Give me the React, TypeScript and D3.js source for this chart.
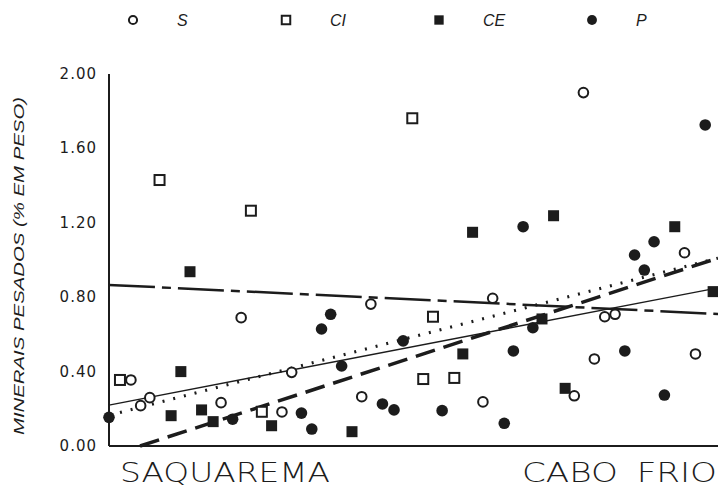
import React from 'react';
import * as d3 from 'd3';

// position along the coast (0 = Saquarema, 100 = Cabo Frio), heavy minerals (% weight)
const seriesS = [
  [3.6, 0.355], [5.2, 0.217], [6.7, 0.26], [18.4, 0.233], [21.7, 0.69], [30.0, 0.396],
  [28.4, 0.183], [41.5, 0.265], [43.0, 0.763], [63.0, 0.794], [61.4, 0.237], [79.7, 0.468],
  [81.4, 0.695], [83.1, 0.708], [76.4, 0.27], [96.3, 0.495], [94.5, 1.039], [77.9, 1.9],
];
const seriesCI = [
  [1.8, 0.355], [8.3, 1.43], [23.3, 1.265], [49.8, 1.762], [53.2, 0.695], [51.6, 0.36],
  [56.7, 0.366], [25.1, 0.184],
];
const seriesCE = [
  [13.3, 0.937], [11.8, 0.4], [10.2, 0.163], [15.2, 0.194], [17.1, 0.131], [26.7, 0.109],
  [39.9, 0.077], [58.1, 0.495], [71.1, 0.683], [74.9, 0.31], [99.2, 0.83], [59.7, 1.149],
  [73.0, 1.238], [92.9, 1.179],
];
const seriesP = [
  [0, 0.154], [20.3, 0.144], [31.6, 0.177], [33.3, 0.091], [34.9, 0.629], [36.4, 0.708],
  [38.2, 0.43], [44.9, 0.226], [46.8, 0.194], [48.3, 0.565], [54.7, 0.19], [64.9, 0.122],
  [66.4, 0.511], [69.6, 0.636], [84.7, 0.511], [91.2, 0.274], [86.3, 1.027], [87.9, 0.946],
  [89.5, 1.098], [68.0, 1.179], [97.9, 1.726],
];

// trend lines: [x start, y start, x end, y end]
const trendDashDot = [0, 0.866, 100, 0.71];
const trendSolid = [0, 0.22, 100, 0.85];
const trendDotted = [1.8, 0.18, 100, 1.01];
const trendDashed = [5.1, 0, 100, 1.01];

const yTicks = [0, 0.4, 0.8, 1.2, 1.6, 2.0];
const legendItems = ['S', 'CI', 'CE', 'P'];

const W = 718;
const H = 494;
const ink = '#1c1c1c';

const x = d3.scaleLinear().domain([0, 100]).range([109, 718]);
const y = d3.scaleLinear().domain([0, 2]).range([446, 74]);

const line = d3.line<number[]>().x(d => x(d[0])).y(d => y(d[1]));
const seg = (t: number[]) => line([[t[0], t[1]], [t[2], t[3]]]) || '';

const Marker = ({ kind, cx, cy, s = 1 }: { kind: string; cx: number; cy: number; s?: number }) => {
  if (kind === 'S') return <circle cx={cx} cy={cy} r={4.8 * s} fill="white" stroke={ink} strokeWidth={2} />;
  if (kind === 'CI') return <rect x={cx - 5 * s} y={cy - 5 * s} width={10 * s} height={10 * s} fill="white" stroke={ink} strokeWidth={2} />;
  if (kind === 'CE') return <rect x={cx - 5.5 * s} y={cy - 5.5 * s} width={11 * s} height={11 * s} fill={ink} />;
  return <circle cx={cx} cy={cy} r={5.8 * s} fill={ink} />;
};

const App = () => {
  const sets: [string, number[][]][] = [['S', seriesS], ['CI', seriesCI], ['CE', seriesCE], ['P', seriesP]];
  const legendX = d3.scalePoint<string>().domain(legendItems).range([133, 592]);
  const thin = { fontFamily: 'DejaVu Sans ExtraLight, DejaVu Sans, sans-serif', fontWeight: 200 };

  return (
    <svg width={W} height={H} style={{ position: 'absolute', left: 0, top: 0, background: 'white' }}>
      {/* legend */}
      {legendItems.map(k => (
        <g key={k}>
          <Marker kind={k} cx={legendX(k)!} cy={20} s={0.85} />
          <text x={legendX(k)! + 44} y={26} fontFamily="Liberation Sans, Arial, sans-serif"
            fontStyle="italic" fontSize={16} fill={ink}>{k}</text>
        </g>
      ))}

      {/* axes */}
      <line x1={x(0)} x2={x(0)} y1={y(2)} y2={y(0)} stroke={ink} strokeWidth={2} />
      <line x1={x(0)} x2={x(100)} y1={y(0)} y2={y(0)} stroke={ink} strokeWidth={2} />
      {yTicks.map(t => (
        <text key={t} x={97} y={y(t) + 5} textAnchor="end" fontFamily="DejaVu Sans, sans-serif"
          fontSize={15} letterSpacing={1} fill={ink}>{t.toFixed(2)}</text>
      ))}
      <text transform={`translate(24,${(y(0) + y(2)) / 2 + 6}) rotate(-90)`} textAnchor="middle"
        fontFamily="Liberation Sans, Arial, sans-serif" fontStyle="italic" fontSize={14}
        textLength={338} lengthAdjust="spacingAndGlyphs" fill={ink}>MINERAIS PESADOS (% EM PESO)</text>

      <text x={120} y={482} style={thin} fontSize={26}
        textLength={210} lengthAdjust="spacingAndGlyphs" fill={ink}>SAQUAREMA</text>
      <text x={522} y={482} style={thin} fontSize={26}
        textLength={195} lengthAdjust="spacingAndGlyphs" fill={ink} wordSpacing={6}>CABO FRIO</text>

      {/* trend lines */}
      <path d={seg(trendDashDot)} stroke={ink} strokeWidth={2.5} fill="none" strokeDasharray="46,7,9,7" />
      <path d={seg(trendSolid)} stroke={ink} strokeWidth={1.4} fill="none" />
      <path d={seg(trendDotted)} stroke={ink} strokeWidth={3} fill="none" strokeDasharray="2,9" />
      <path d={seg(trendDashed)} stroke={ink} strokeWidth={3.5} fill="none" strokeDasharray="20,9" />

      {/* points */}
      {sets.map(([k, pts]) => pts.map((p, i) => (
        <Marker key={k + i} kind={k} cx={x(p[0])} cy={y(p[1])} />
      )))}
    </svg>
  );
};

export default App;
